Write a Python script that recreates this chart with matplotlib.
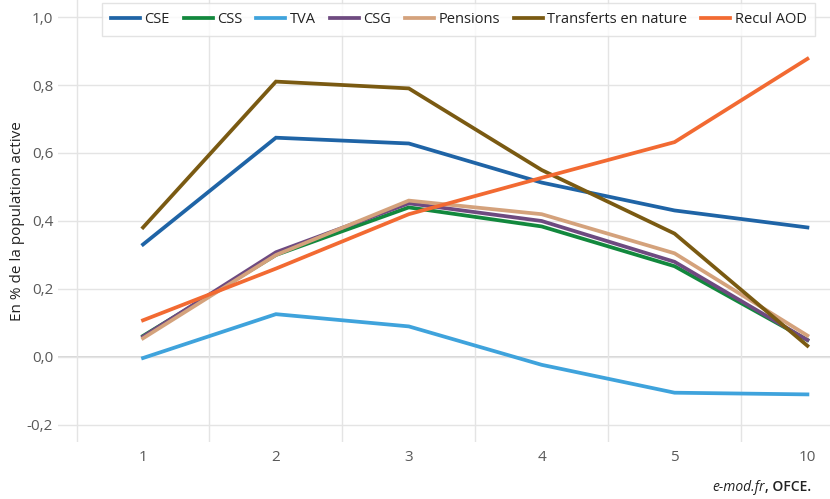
import matplotlib.pyplot as plt

plt.rcParams['font.family'] = ['Open Sans', 'DejaVu Sans']

categories = ['1', '2', '3', '4', '5', '10']
cse = [0.331, 0.645, 0.628, 0.513, 0.431, 0.381]
css = [0.062, 0.300, 0.440, 0.384, 0.267, 0.050]
tva = [-0.003, 0.126, 0.090, -0.023, -0.105, -0.110]
csg = [0.060, 0.308, 0.452, 0.400, 0.280, 0.050]
pensions = [0.055, 0.300, 0.460, 0.420, 0.305, 0.063]
transferts = [0.381, 0.810, 0.790, 0.550, 0.363, 0.033]
recul_aod = [0.108, 0.260, 0.420, 0.527, 0.632, 0.877]

series = [
    ('CSE', cse, '#1f64a6'),
    ('CSS', css, '#12883d'),
    ('TVA', tva, '#3fa3dc'),
    ('CSG', csg, '#6e4a80'),
    ('Pensions', pensions, '#d4a27c'),
    ('Transferts en nature', transferts, '#7a5a12'),
    ('Recul AOD', recul_aod, '#f26a32'),
]

fig = plt.figure(figsize=(8.3, 4.99), dpi=100)
ax = fig.add_axes([58 / 830, 57 / 499, 772 / 830, 442 / 499])

x = range(len(categories))
for name, vals, col in series:
    ax.plot(x, vals, color=col, lw=2.7, label=name, solid_joinstyle='miter')

ax.set_yticks([-0.2, 0.0, 0.2, 0.4, 0.6, 0.8, 1.0])
ax.set_yticklabels(['-0,2', '0,0', '0,2', '0,4', '0,6', '0,8', '1,0'])
ax.set_xticks(list(x))
ax.set_xticklabels(categories)
ax.set_xticks([i - 0.5 for i in range(7)], minor=True)
ax.set_xlim(-0.64, 5.17)
ax.set_ylim(-0.25, 1.05)
ax.tick_params(axis='both', which='both', length=0, labelsize=11, colors='#595959')
ax.tick_params(axis='x', pad=6)
ax.grid(axis='y', color='#e4e4e4', lw=1)
ax.grid(axis='x', which='minor', color='#e4e4e4', lw=1)
ax.axhline(0, color='#d0d0d0', lw=1.2, zorder=1)
for s in ax.spines.values():
    s.set_visible(False)

ax.set_ylabel('En % de la population active', fontsize=11, color='#222222', labelpad=1)

leg = ax.legend(loc='upper left', bbox_to_anchor=(102 / 830, 1 - 3 / 499), bbox_transform=fig.transFigure,
                ncol=7, frameon=True, fontsize=10.5, handlelength=2.0, handletextpad=0.3,
                columnspacing=0.95, borderpad=0.6, borderaxespad=0, fancybox=False)
leg.get_frame().set_edgecolor('#dddddd')
leg.get_frame().set_linewidth(1)
for t in leg.get_texts():
    t.set_color('#222222')

fig.text(0.922, 0.016, 'e-mod.fr', style='italic', ha='right', fontsize=10, color='#222222')
fig.text(0.922, 0.016, ', OFCE.', ha='left', fontsize=10, color='#222222', fontweight='semibold')

fig.savefig('out.png', dpi=100)
